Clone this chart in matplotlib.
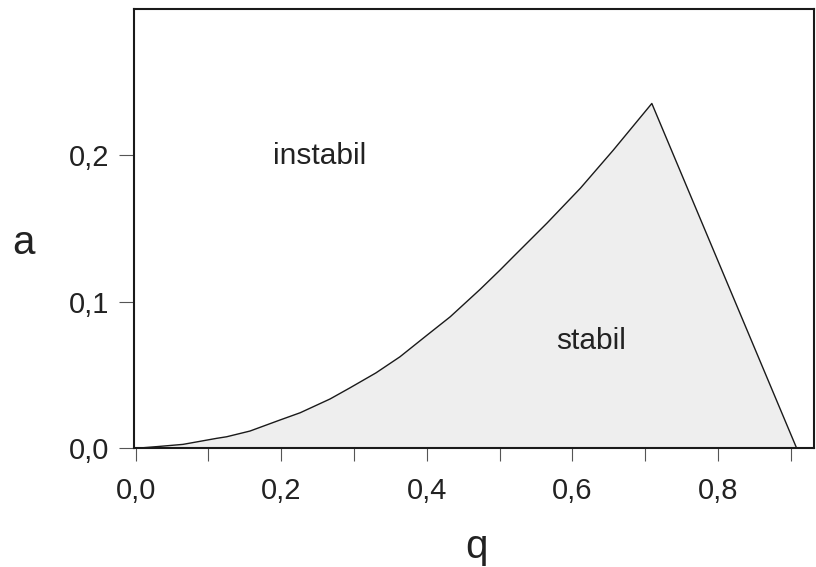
import matplotlib.pyplot as plt

# Stabilitätsdiagramm, Werte
q_kurve = [0.0, 0.030, 0.065, 0.111, 0.125, 0.157, 0.198, 0.226, 0.267, 0.294,
           0.330, 0.363, 0.400, 0.432, 0.473, 0.500, 0.518, 0.565, 0.611, 0.656, 0.709]
a_kurve = [0.0, 0.0012, 0.0027, 0.0068, 0.0079, 0.0118, 0.0193, 0.0243, 0.0337, 0.0412,
           0.0515, 0.0625, 0.0772, 0.0898, 0.1085, 0.1215, 0.1305, 0.1538, 0.1777, 0.2036, 0.2355]
q_rand = [0.709, 0.908]
a_rand = [0.2355, 0.0]

x_ticks = [0.0, 0.1, 0.2, 0.3, 0.4, 0.5, 0.6, 0.7, 0.8, 0.9]
x_labels = ['0,0', '', '0,2', '', '0,4', '', '0,6', '', '0,8', '']
y_ticks = [0.0, 0.1, 0.2]
y_labels = ['0,0', '0,1', '0,2']

plt.rcParams['font.family'] = ['Liberation Sans', 'DejaVu Sans']

fig = plt.figure(figsize=(8.16, 5.67), dpi=100)
ax = fig.add_axes([0.1642, 0.2093, 0.8333, 0.7748])

# Fläche + Randkurve
ax.fill(q_kurve + q_rand[1:], a_kurve + a_rand[1:], color='#eeeeee', lw=0)
ax.plot(q_kurve + q_rand[1:], a_kurve + a_rand[1:], color='#1a1a1a', lw=1.0)

ax.set_xlim(-0.0023, 0.9317)
ax.set_ylim(0, 0.3)

ax.set_xticks(x_ticks)
ax.set_xticklabels(x_labels)
ax.set_yticks(y_ticks)
ax.set_yticklabels(y_labels)
ax.tick_params(axis='x', direction='out', length=9.5, width=0.8, color='#555555',
               labelsize=21, pad=11, labelcolor='#222222')
ax.tick_params(axis='y', direction='out', length=10.8, width=0.8, color='#555555',
               labelsize=21, pad=7, labelcolor='#222222')

for s in ax.spines.values():
    s.set_linewidth(1.5)
    s.set_color('#1a1a1a')

ax.text(0.253, 0.194, 'instabil', fontsize=21.5, ha='center', va='baseline', color='#222222')
ax.text(0.626, 0.068, 'stabil', fontsize=21.5, ha='center', va='baseline', color='#222222')

fig.text(23 / 816, 1 - 243 / 567, 'a', fontsize=29, ha='center', va='center', color='#222222')
fig.text(476 / 816, 1 - 558 / 567, 'q', fontsize=29, ha='center', va='baseline', color='#222222')

fig.savefig('out.png', dpi=100)
